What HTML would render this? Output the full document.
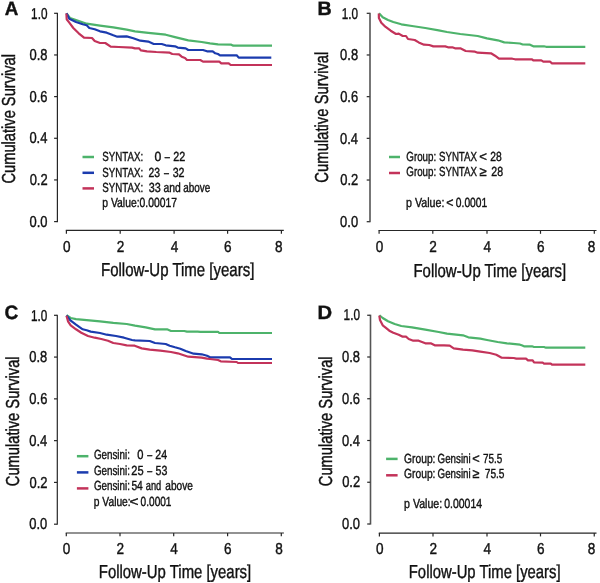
<!DOCTYPE html>
<html><head><meta charset="utf-8"><title>Kaplan-Meier survival curves</title>
<style>
html,body{margin:0;padding:0;background:#fff;}
body{width:600px;height:583px;overflow:hidden;}
svg{display:block;will-change:transform;}
text{text-rendering:geometricPrecision;font-family:"Liberation Sans",sans-serif;fill:#111;stroke:#111;stroke-width:0.4px;}
</style></head>
<body>
<svg width="600" height="583" viewBox="0 0 600 583">
<rect width="600" height="583" fill="#fff"/>
<line x1="57.40" y1="12.70" x2="57.40" y2="222.20" stroke="#262626" stroke-width="1.2"/>
<line x1="54.10" y1="13.30" x2="57.10" y2="13.30" stroke="#262626" stroke-width="1.2"/>
<line x1="54.10" y1="54.96" x2="57.10" y2="54.96" stroke="#262626" stroke-width="1.2"/>
<line x1="54.10" y1="96.62" x2="57.10" y2="96.62" stroke="#262626" stroke-width="1.2"/>
<line x1="54.10" y1="138.28" x2="57.10" y2="138.28" stroke="#262626" stroke-width="1.2"/>
<line x1="54.10" y1="179.94" x2="57.10" y2="179.94" stroke="#262626" stroke-width="1.2"/>
<line x1="54.10" y1="221.60" x2="57.10" y2="221.60" stroke="#262626" stroke-width="1.2"/>
<line x1="65.80" y1="230.40" x2="283.80" y2="230.40" stroke="#262626" stroke-width="1.2"/>
<line x1="66.40" y1="230.40" x2="66.40" y2="233.70" stroke="#262626" stroke-width="1.2"/>
<line x1="120.20" y1="230.40" x2="120.20" y2="233.70" stroke="#262626" stroke-width="1.2"/>
<line x1="174.10" y1="230.40" x2="174.10" y2="233.70" stroke="#262626" stroke-width="1.2"/>
<line x1="227.60" y1="230.40" x2="227.60" y2="233.70" stroke="#262626" stroke-width="1.2"/>
<line x1="281.40" y1="230.40" x2="281.40" y2="233.70" stroke="#262626" stroke-width="1.2"/>
<text x="31.12" y="18.50" font-size="15.8" textLength="16.35" lengthAdjust="spacingAndGlyphs">1.0</text>
<text x="29.51" y="60.16" font-size="15.8" textLength="18.01" lengthAdjust="spacingAndGlyphs">0.8</text>
<text x="29.57" y="101.82" font-size="15.8" textLength="18.01" lengthAdjust="spacingAndGlyphs">0.6</text>
<text x="29.38" y="143.48" font-size="15.8" textLength="18.01" lengthAdjust="spacingAndGlyphs">0.4</text>
<text x="29.64" y="185.14" font-size="15.8" textLength="18.01" lengthAdjust="spacingAndGlyphs">0.2</text>
<text x="29.51" y="226.80" font-size="15.8" textLength="18.01" lengthAdjust="spacingAndGlyphs">0.0</text>
<text x="62.93" y="252.00" font-size="15.8" textLength="7.56" lengthAdjust="spacingAndGlyphs">0</text>
<text x="116.73" y="252.00" font-size="15.8" textLength="7.56" lengthAdjust="spacingAndGlyphs">2</text>
<text x="170.66" y="252.00" font-size="15.8" textLength="7.56" lengthAdjust="spacingAndGlyphs">4</text>
<text x="224.10" y="252.00" font-size="15.8" textLength="7.56" lengthAdjust="spacingAndGlyphs">6</text>
<text x="274.90" y="252.00" font-size="15.8" textLength="7.56" lengthAdjust="spacingAndGlyphs">8</text>
<text x="4.63" y="14.70" font-size="19.4" textLength="13.58" lengthAdjust="spacingAndGlyphs" font-weight="bold">A</text>
<text x="101.00" y="276.20" font-size="18.8" textLength="153.32" lengthAdjust="spacingAndGlyphs">Follow-Up Time [years]</text>
<g transform="translate(15.20,182.80) rotate(-90)"><text x="-0.73" y="0" font-size="18.8" textLength="129.51" lengthAdjust="spacingAndGlyphs">Cumulative Survival</text></g>
<line x1="82.50" y1="157.00" x2="94.00" y2="157.00" stroke="#4db36b" stroke-width="2.5"/>
<line x1="82.50" y1="172.80" x2="94.00" y2="172.80" stroke="#1b3bae" stroke-width="2.5"/>
<line x1="82.50" y1="188.40" x2="94.00" y2="188.40" stroke="#c3335a" stroke-width="2.5"/>
<text x="102.16" y="161.20" font-size="13.2" textLength="40.96" lengthAdjust="spacingAndGlyphs">SYNTAX:</text>
<text x="154.61" y="161.20" font-size="13.2" textLength="6.79" lengthAdjust="spacingAndGlyphs">0</text>
<text x="164.70" y="161.20" font-size="13.2" textLength="5.06" lengthAdjust="spacingAndGlyphs">–</text>
<text x="173.36" y="161.20" font-size="13.2" textLength="12.00" lengthAdjust="spacingAndGlyphs">22</text>
<text x="102.16" y="176.50" font-size="13.2" textLength="40.96" lengthAdjust="spacingAndGlyphs">SYNTAX:</text>
<text x="148.58" y="176.50" font-size="13.2" textLength="11.51" lengthAdjust="spacingAndGlyphs">23</text>
<text x="164.10" y="176.50" font-size="13.2" textLength="4.91" lengthAdjust="spacingAndGlyphs">–</text>
<text x="172.67" y="176.50" font-size="13.2" textLength="11.89" lengthAdjust="spacingAndGlyphs">32</text>
<text x="102.16" y="191.80" font-size="13.2" textLength="40.96" lengthAdjust="spacingAndGlyphs">SYNTAX:</text>
<text x="148.67" y="191.80" font-size="13.2" textLength="12.05" lengthAdjust="spacingAndGlyphs">33</text>
<text x="163.43" y="191.80" font-size="13.2" textLength="17.28" lengthAdjust="spacingAndGlyphs">and</text>
<text x="183.25" y="191.80" font-size="13.2" textLength="26.99" lengthAdjust="spacingAndGlyphs">above</text>
<text x="102.33" y="207.00" font-size="13.2" textLength="74.69" lengthAdjust="spacingAndGlyphs">p Value:0.00017</text>
<path d="M66.50,13.30 L70.00,18.00 L76.00,20.00 L86.70,23.70 L100.00,25.60 L113.30,27.30 L126.70,29.60 L135.00,31.30 L148.30,32.90 L165.70,34.70 L175.00,37.10 L188.30,40.40 L201.70,42.00 L210.00,43.30 L218.00,44.30 L231.30,44.70 L233.30,45.70 L272.00,45.70" fill="none" stroke="#4db36b" stroke-width="2.2" stroke-linejoin="round" stroke-linecap="butt"/>
<path d="M66.50,13.30 L69.30,18.70 L76.00,22.00 L82.70,24.30 L86.70,25.30 L89.30,28.00 L94.70,29.30 L100.00,31.30 L106.70,32.70 L113.30,35.30 L117.30,36.70 L126.70,36.40 L133.30,38.20 L140.30,40.70 L148.30,41.60 L153.70,44.00 L161.70,44.00 L165.70,45.30 L175.00,46.30 L177.70,47.60 L185.70,48.40 L188.30,50.00 L203.00,50.00 L207.00,51.30 L212.70,51.30 L215.30,53.30 L218.00,54.00 L220.00,55.30 L236.70,55.30 L238.70,57.60 L271.30,57.60" fill="none" stroke="#1b3bae" stroke-width="2.2" stroke-linejoin="round" stroke-linecap="butt"/>
<path d="M66.40,13.50 L66.70,19.30 L69.30,22.70 L73.30,28.00 L78.70,33.30 L84.00,37.60 L92.00,38.00 L94.70,41.00 L100.00,43.00 L105.30,43.00 L110.70,46.70 L118.70,47.00 L132.00,47.70 L135.00,48.30 L139.00,48.30 L141.00,50.40 L147.00,51.30 L156.30,52.00 L169.70,52.70 L172.30,54.00 L179.00,54.40 L181.70,56.70 L185.00,58.00 L187.00,60.00 L200.30,60.00 L203.00,61.60 L219.30,61.60 L221.30,63.30 L228.70,63.30 L230.70,65.00 L272.00,65.00" fill="none" stroke="#c3335a" stroke-width="2.2" stroke-linejoin="round" stroke-linecap="butt"/>
<line x1="370.00" y1="12.70" x2="370.00" y2="222.30" stroke="#686868" stroke-width="1.8"/>
<line x1="366.70" y1="13.30" x2="369.70" y2="13.30" stroke="#262626" stroke-width="1.2"/>
<line x1="366.70" y1="54.98" x2="369.70" y2="54.98" stroke="#262626" stroke-width="1.2"/>
<line x1="366.70" y1="96.66" x2="369.70" y2="96.66" stroke="#262626" stroke-width="1.2"/>
<line x1="366.70" y1="138.34" x2="369.70" y2="138.34" stroke="#262626" stroke-width="1.2"/>
<line x1="366.70" y1="180.02" x2="369.70" y2="180.02" stroke="#262626" stroke-width="1.2"/>
<line x1="366.70" y1="221.70" x2="369.70" y2="221.70" stroke="#262626" stroke-width="1.2"/>
<line x1="378.50" y1="230.50" x2="596.50" y2="230.50" stroke="#262626" stroke-width="1.2"/>
<line x1="379.10" y1="230.50" x2="379.10" y2="233.80" stroke="#262626" stroke-width="1.2"/>
<line x1="432.80" y1="230.50" x2="432.80" y2="233.80" stroke="#262626" stroke-width="1.2"/>
<line x1="487.00" y1="230.50" x2="487.00" y2="233.80" stroke="#262626" stroke-width="1.2"/>
<line x1="540.50" y1="230.50" x2="540.50" y2="233.80" stroke="#262626" stroke-width="1.2"/>
<line x1="594.30" y1="230.50" x2="594.30" y2="233.80" stroke="#262626" stroke-width="1.2"/>
<text x="341.72" y="18.50" font-size="15.8" textLength="16.35" lengthAdjust="spacingAndGlyphs">1.0</text>
<text x="340.11" y="60.18" font-size="15.8" textLength="18.01" lengthAdjust="spacingAndGlyphs">0.8</text>
<text x="340.17" y="101.86" font-size="15.8" textLength="18.01" lengthAdjust="spacingAndGlyphs">0.6</text>
<text x="339.98" y="143.54" font-size="15.8" textLength="18.01" lengthAdjust="spacingAndGlyphs">0.4</text>
<text x="340.24" y="185.22" font-size="15.8" textLength="18.01" lengthAdjust="spacingAndGlyphs">0.2</text>
<text x="340.11" y="226.90" font-size="15.8" textLength="18.01" lengthAdjust="spacingAndGlyphs">0.0</text>
<text x="375.63" y="252.00" font-size="15.8" textLength="7.56" lengthAdjust="spacingAndGlyphs">0</text>
<text x="429.33" y="252.00" font-size="15.8" textLength="7.56" lengthAdjust="spacingAndGlyphs">2</text>
<text x="483.56" y="252.00" font-size="15.8" textLength="7.56" lengthAdjust="spacingAndGlyphs">4</text>
<text x="537.00" y="252.00" font-size="15.8" textLength="7.56" lengthAdjust="spacingAndGlyphs">6</text>
<text x="587.80" y="252.00" font-size="15.8" textLength="7.56" lengthAdjust="spacingAndGlyphs">8</text>
<text x="317.47" y="15.00" font-size="19.4" textLength="14.21" lengthAdjust="spacingAndGlyphs" font-weight="bold">B</text>
<text x="413.51" y="276.70" font-size="18.8" textLength="152.61" lengthAdjust="spacingAndGlyphs">Follow-Up Time [years]</text>
<g transform="translate(328.40,181.90) rotate(-90)"><text x="-0.74" y="0" font-size="18.8" textLength="131.03" lengthAdjust="spacingAndGlyphs">Cumulative Survival</text></g>
<line x1="389.00" y1="157.00" x2="400.00" y2="157.00" stroke="#4db36b" stroke-width="2.5"/>
<line x1="389.00" y1="173.00" x2="400.00" y2="173.00" stroke="#c3335a" stroke-width="2.5"/>
<text x="406.31" y="161.30" font-size="13.2" textLength="29.89" lengthAdjust="spacingAndGlyphs">Group:</text>
<text x="438.96" y="161.30" font-size="13.2" textLength="38.05" lengthAdjust="spacingAndGlyphs">SYNTAX</text>
<text x="479.24" y="161.30" font-size="13.2" textLength="7.71" lengthAdjust="spacingAndGlyphs">&lt;</text>
<text x="490.29" y="161.30" font-size="13.2" textLength="11.45" lengthAdjust="spacingAndGlyphs">28</text>
<text x="406.31" y="176.40" font-size="13.2" textLength="29.89" lengthAdjust="spacingAndGlyphs">Group:</text>
<text x="438.96" y="176.40" font-size="13.2" textLength="38.05" lengthAdjust="spacingAndGlyphs">SYNTAX</text>
<text x="479.51" y="176.40" font-size="13.2" textLength="7.17" lengthAdjust="spacingAndGlyphs">≥</text>
<text x="491.37" y="176.40" font-size="13.2" textLength="11.78" lengthAdjust="spacingAndGlyphs">28</text>
<text x="406.06" y="207.00" font-size="13.2" textLength="38.41" lengthAdjust="spacingAndGlyphs">p Value:</text>
<text x="446.18" y="207.00" font-size="13.2" textLength="7.22" lengthAdjust="spacingAndGlyphs">&lt;</text>
<text x="455.84" y="207.00" font-size="13.2" textLength="31.36" lengthAdjust="spacingAndGlyphs">0.0001</text>
<path d="M379.00,13.30 L382.70,17.30 L388.00,20.00 L393.30,22.00 L401.30,24.30 L412.00,26.00 L425.30,28.00 L438.70,30.40 L447.00,32.00 L460.30,34.00 L477.70,36.00 L487.00,38.40 L497.70,40.30 L504.30,42.40 L513.70,43.00 L520.00,43.50 L522.70,44.50 L530.00,44.70 L533.30,46.30 L544.00,46.30 L546.00,46.80 L585.30,46.80" fill="none" stroke="#4db36b" stroke-width="2.2" stroke-linejoin="round" stroke-linecap="butt"/>
<path d="M378.80,13.50 L378.90,18.00 L381.30,22.70 L385.30,26.70 L390.70,30.70 L396.00,34.00 L398.70,33.60 L402.70,36.00 L406.00,36.00 L408.00,39.00 L414.70,40.00 L418.70,42.40 L424.00,44.70 L429.30,45.00 L433.30,46.40 L445.30,46.40 L448.00,47.30 L452.30,47.30 L455.00,48.30 L460.30,48.30 L465.70,51.00 L475.00,51.70 L477.70,52.70 L491.00,53.30 L495.00,55.70 L499.00,58.70 L512.30,58.70 L515.00,59.30 L532.00,59.30 L533.30,60.40 L541.30,60.40 L543.30,61.70 L550.00,61.70 L552.00,63.30 L585.30,63.30" fill="none" stroke="#c3335a" stroke-width="2.2" stroke-linejoin="round" stroke-linecap="butt"/>
<line x1="57.30" y1="314.70" x2="57.30" y2="524.80" stroke="#262626" stroke-width="1.2"/>
<line x1="54.00" y1="315.30" x2="57.00" y2="315.30" stroke="#262626" stroke-width="1.2"/>
<line x1="54.00" y1="357.08" x2="57.00" y2="357.08" stroke="#262626" stroke-width="1.2"/>
<line x1="54.00" y1="398.86" x2="57.00" y2="398.86" stroke="#262626" stroke-width="1.2"/>
<line x1="54.00" y1="440.64" x2="57.00" y2="440.64" stroke="#262626" stroke-width="1.2"/>
<line x1="54.00" y1="482.42" x2="57.00" y2="482.42" stroke="#262626" stroke-width="1.2"/>
<line x1="54.00" y1="524.20" x2="57.00" y2="524.20" stroke="#262626" stroke-width="1.2"/>
<line x1="65.70" y1="533.00" x2="283.90" y2="533.00" stroke="#262626" stroke-width="1.2"/>
<line x1="66.30" y1="533.00" x2="66.30" y2="536.30" stroke="#262626" stroke-width="1.2"/>
<line x1="120.00" y1="533.00" x2="120.00" y2="536.30" stroke="#262626" stroke-width="1.2"/>
<line x1="173.70" y1="533.00" x2="173.70" y2="536.30" stroke="#262626" stroke-width="1.2"/>
<line x1="227.60" y1="533.00" x2="227.60" y2="536.30" stroke="#262626" stroke-width="1.2"/>
<line x1="281.30" y1="533.00" x2="281.30" y2="536.30" stroke="#262626" stroke-width="1.2"/>
<text x="30.92" y="320.50" font-size="15.8" textLength="16.35" lengthAdjust="spacingAndGlyphs">1.0</text>
<text x="29.31" y="362.28" font-size="15.8" textLength="18.01" lengthAdjust="spacingAndGlyphs">0.8</text>
<text x="29.37" y="404.06" font-size="15.8" textLength="18.01" lengthAdjust="spacingAndGlyphs">0.6</text>
<text x="29.18" y="445.84" font-size="15.8" textLength="18.01" lengthAdjust="spacingAndGlyphs">0.4</text>
<text x="29.44" y="487.62" font-size="15.8" textLength="18.01" lengthAdjust="spacingAndGlyphs">0.2</text>
<text x="29.31" y="529.40" font-size="15.8" textLength="18.01" lengthAdjust="spacingAndGlyphs">0.0</text>
<text x="62.83" y="553.60" font-size="15.8" textLength="7.56" lengthAdjust="spacingAndGlyphs">0</text>
<text x="116.53" y="553.60" font-size="15.8" textLength="7.56" lengthAdjust="spacingAndGlyphs">2</text>
<text x="170.26" y="553.60" font-size="15.8" textLength="7.56" lengthAdjust="spacingAndGlyphs">4</text>
<text x="224.10" y="553.60" font-size="15.8" textLength="7.56" lengthAdjust="spacingAndGlyphs">6</text>
<text x="275.20" y="553.60" font-size="15.8" textLength="7.56" lengthAdjust="spacingAndGlyphs">8</text>
<text x="4.44" y="319.30" font-size="19.4" textLength="13.78" lengthAdjust="spacingAndGlyphs" font-weight="bold">C</text>
<text x="98.81" y="578.30" font-size="18.8" textLength="152.41" lengthAdjust="spacingAndGlyphs">Follow-Up Time [years]</text>
<g transform="translate(18.80,485.50) rotate(-90)"><text x="-0.73" y="0" font-size="18.8" textLength="129.81" lengthAdjust="spacingAndGlyphs">Cumulative Survival</text></g>
<line x1="76.90" y1="456.20" x2="88.40" y2="456.20" stroke="#4db36b" stroke-width="2.5"/>
<line x1="76.90" y1="472.40" x2="88.40" y2="472.40" stroke="#1b3bae" stroke-width="2.5"/>
<line x1="76.90" y1="488.40" x2="88.40" y2="488.40" stroke="#c3335a" stroke-width="2.5"/>
<text x="93.91" y="459.40" font-size="13.2" textLength="36.01" lengthAdjust="spacingAndGlyphs">Gensini:</text>
<text x="137.35" y="459.40" font-size="13.2" textLength="6.21" lengthAdjust="spacingAndGlyphs">0</text>
<text x="147.20" y="459.40" font-size="13.2" textLength="4.91" lengthAdjust="spacingAndGlyphs">–</text>
<text x="155.37" y="459.40" font-size="13.2" textLength="11.77" lengthAdjust="spacingAndGlyphs">24</text>
<text x="93.91" y="474.80" font-size="13.2" textLength="36.01" lengthAdjust="spacingAndGlyphs">Gensini:</text>
<text x="131.25" y="474.80" font-size="13.2" textLength="12.32" lengthAdjust="spacingAndGlyphs">25</text>
<text x="147.20" y="474.80" font-size="13.2" textLength="4.91" lengthAdjust="spacingAndGlyphs">–</text>
<text x="155.47" y="474.80" font-size="13.2" textLength="11.83" lengthAdjust="spacingAndGlyphs">53</text>
<text x="93.91" y="490.10" font-size="13.2" textLength="36.01" lengthAdjust="spacingAndGlyphs">Gensini:</text>
<text x="131.39" y="490.10" font-size="13.2" textLength="11.44" lengthAdjust="spacingAndGlyphs">54</text>
<text x="145.78" y="490.10" font-size="13.2" textLength="15.45" lengthAdjust="spacingAndGlyphs">and</text>
<text x="165.35" y="490.10" font-size="13.2" textLength="27.51" lengthAdjust="spacingAndGlyphs">above</text>
<text x="93.83" y="505.50" font-size="13.2" textLength="36.84" lengthAdjust="spacingAndGlyphs">p Value:</text>
<text x="129.43" y="505.50" font-size="13.2" textLength="9.03" lengthAdjust="spacingAndGlyphs">&lt;</text>
<text x="140.60" y="505.50" font-size="13.2" textLength="30.90" lengthAdjust="spacingAndGlyphs">0.0001</text>
<path d="M66.50,315.30 L70.70,318.00 L76.00,319.10 L86.70,320.10 L100.00,321.30 L113.30,322.90 L126.70,324.00 L135.00,325.70 L145.70,327.30 L155.00,329.30 L167.00,329.30 L171.00,331.00 L184.30,331.00 L187.00,331.60 L197.70,331.60 L200.30,331.80 L218.00,331.80 L219.30,333.00 L272.00,333.00" fill="none" stroke="#4db36b" stroke-width="2.2" stroke-linejoin="round" stroke-linecap="butt"/>
<path d="M66.50,315.50 L70.70,320.70 L76.00,324.70 L82.70,329.30 L86.70,330.30 L90.70,331.60 L100.00,333.00 L106.70,334.70 L116.00,336.00 L124.00,337.70 L132.00,340.00 L135.00,340.40 L149.70,341.00 L155.00,343.00 L165.70,344.00 L169.70,345.70 L175.00,347.30 L180.30,348.70 L185.70,351.00 L193.70,353.70 L201.70,354.30 L207.00,355.70 L210.00,357.30 L230.00,357.30 L232.00,359.00 L272.00,359.00" fill="none" stroke="#1b3bae" stroke-width="2.2" stroke-linejoin="round" stroke-linecap="butt"/>
<path d="M66.50,315.70 L68.00,321.30 L70.70,325.30 L76.00,329.30 L81.30,332.70 L88.00,336.00 L94.70,337.70 L101.30,339.00 L108.00,340.70 L113.30,343.00 L120.00,344.00 L126.70,345.30 L134.70,345.70 L141.70,348.40 L149.70,349.60 L160.30,350.70 L171.00,352.00 L177.70,353.30 L188.30,356.70 L201.70,357.60 L207.00,358.70 L210.00,359.00 L218.00,360.00 L220.70,361.30 L236.70,362.00 L238.00,363.00 L272.00,363.00" fill="none" stroke="#c3335a" stroke-width="2.2" stroke-linejoin="round" stroke-linecap="butt"/>
<line x1="370.50" y1="314.65" x2="370.50" y2="524.60" stroke="#555" stroke-width="1.6"/>
<line x1="367.20" y1="315.25" x2="370.20" y2="315.25" stroke="#262626" stroke-width="1.2"/>
<line x1="367.20" y1="357.00" x2="370.20" y2="357.00" stroke="#262626" stroke-width="1.2"/>
<line x1="367.20" y1="398.75" x2="370.20" y2="398.75" stroke="#262626" stroke-width="1.2"/>
<line x1="367.20" y1="440.50" x2="370.20" y2="440.50" stroke="#262626" stroke-width="1.2"/>
<line x1="367.20" y1="482.25" x2="370.20" y2="482.25" stroke="#262626" stroke-width="1.2"/>
<line x1="367.20" y1="524.00" x2="370.20" y2="524.00" stroke="#262626" stroke-width="1.2"/>
<line x1="378.80" y1="533.10" x2="596.50" y2="533.10" stroke="#262626" stroke-width="1.2"/>
<line x1="379.40" y1="533.10" x2="379.40" y2="536.40" stroke="#262626" stroke-width="1.2"/>
<line x1="433.00" y1="533.10" x2="433.00" y2="536.40" stroke="#262626" stroke-width="1.2"/>
<line x1="487.00" y1="533.10" x2="487.00" y2="536.40" stroke="#262626" stroke-width="1.2"/>
<line x1="540.50" y1="533.10" x2="540.50" y2="536.40" stroke="#262626" stroke-width="1.2"/>
<line x1="594.25" y1="533.10" x2="594.25" y2="536.40" stroke="#262626" stroke-width="1.2"/>
<text x="343.62" y="320.45" font-size="15.8" textLength="16.35" lengthAdjust="spacingAndGlyphs">1.0</text>
<text x="342.01" y="362.20" font-size="15.8" textLength="18.01" lengthAdjust="spacingAndGlyphs">0.8</text>
<text x="342.07" y="403.95" font-size="15.8" textLength="18.01" lengthAdjust="spacingAndGlyphs">0.6</text>
<text x="341.88" y="445.70" font-size="15.8" textLength="18.01" lengthAdjust="spacingAndGlyphs">0.4</text>
<text x="342.14" y="487.45" font-size="15.8" textLength="18.01" lengthAdjust="spacingAndGlyphs">0.2</text>
<text x="342.01" y="529.20" font-size="15.8" textLength="18.01" lengthAdjust="spacingAndGlyphs">0.0</text>
<text x="375.93" y="553.60" font-size="15.8" textLength="7.56" lengthAdjust="spacingAndGlyphs">0</text>
<text x="429.53" y="553.60" font-size="15.8" textLength="7.56" lengthAdjust="spacingAndGlyphs">2</text>
<text x="483.56" y="553.60" font-size="15.8" textLength="7.56" lengthAdjust="spacingAndGlyphs">4</text>
<text x="537.00" y="553.60" font-size="15.8" textLength="7.56" lengthAdjust="spacingAndGlyphs">6</text>
<text x="587.75" y="553.60" font-size="15.8" textLength="7.56" lengthAdjust="spacingAndGlyphs">8</text>
<text x="317.43" y="319.30" font-size="19.4" textLength="14.62" lengthAdjust="spacingAndGlyphs" font-weight="bold">D</text>
<text x="408.81" y="578.00" font-size="18.8" textLength="151.80" lengthAdjust="spacingAndGlyphs">Follow-Up Time [years]</text>
<g transform="translate(332.00,485.50) rotate(-90)"><text x="-0.73" y="0" font-size="18.8" textLength="129.81" lengthAdjust="spacingAndGlyphs">Cumulative Survival</text></g>
<line x1="386.10" y1="458.90" x2="397.60" y2="458.90" stroke="#4db36b" stroke-width="2.5"/>
<line x1="386.10" y1="475.30" x2="397.60" y2="475.30" stroke="#c3335a" stroke-width="2.5"/>
<text x="404.09" y="462.50" font-size="13.2" textLength="31.36" lengthAdjust="spacingAndGlyphs">Group:</text>
<text x="437.61" y="462.50" font-size="13.2" textLength="33.03" lengthAdjust="spacingAndGlyphs">Gensini</text>
<text x="472.36" y="462.50" font-size="13.2" textLength="7.47" lengthAdjust="spacingAndGlyphs">&lt;</text>
<text x="482.91" y="462.50" font-size="13.2" textLength="19.25" lengthAdjust="spacingAndGlyphs">75.5</text>
<text x="404.09" y="477.90" font-size="13.2" textLength="31.36" lengthAdjust="spacingAndGlyphs">Group:</text>
<text x="437.61" y="477.90" font-size="13.2" textLength="33.03" lengthAdjust="spacingAndGlyphs">Gensini</text>
<text x="472.62" y="477.90" font-size="13.2" textLength="6.94" lengthAdjust="spacingAndGlyphs">≥</text>
<text x="484.74" y="477.90" font-size="13.2" textLength="19.78" lengthAdjust="spacingAndGlyphs">75.5</text>
<text x="404.11" y="508.30" font-size="13.2" textLength="38.10" lengthAdjust="spacingAndGlyphs">p Value:</text>
<text x="444.28" y="508.30" font-size="13.2" textLength="37.78" lengthAdjust="spacingAndGlyphs">0.00014</text>
<path d="M379.40,315.25 L382.70,318.00 L388.00,321.30 L394.70,324.00 L401.30,326.00 L412.00,327.30 L425.30,329.70 L438.70,332.00 L447.00,333.70 L463.00,335.30 L468.30,337.30 L480.30,338.70 L487.00,340.00 L497.70,342.00 L507.00,343.30 L520.00,344.70 L521.70,345.30 L524.00,346.30 L532.00,346.30 L534.00,347.00 L544.00,347.00 L546.00,347.70 L585.30,347.70" fill="none" stroke="#4db36b" stroke-width="2.2" stroke-linejoin="round" stroke-linecap="butt"/>
<path d="M379.30,315.60 L380.00,320.00 L382.70,325.30 L385.30,327.30 L389.30,330.70 L393.30,332.70 L398.70,334.70 L402.70,336.70 L406.00,336.70 L408.70,339.00 L413.30,340.70 L418.70,340.70 L425.30,343.30 L430.70,343.30 L434.70,345.30 L444.00,345.30 L449.70,345.70 L453.70,348.40 L463.00,349.70 L472.30,350.30 L480.30,351.60 L489.70,353.00 L496.30,354.70 L501.70,357.70 L513.70,358.00 L516.30,358.60 L526.00,358.60 L528.00,360.40 L532.70,360.40 L534.00,362.30 L542.70,362.70 L544.00,363.60 L550.70,363.60 L552.00,364.70 L585.30,364.70" fill="none" stroke="#c3335a" stroke-width="2.2" stroke-linejoin="round" stroke-linecap="butt"/>
</svg>
</body></html>
